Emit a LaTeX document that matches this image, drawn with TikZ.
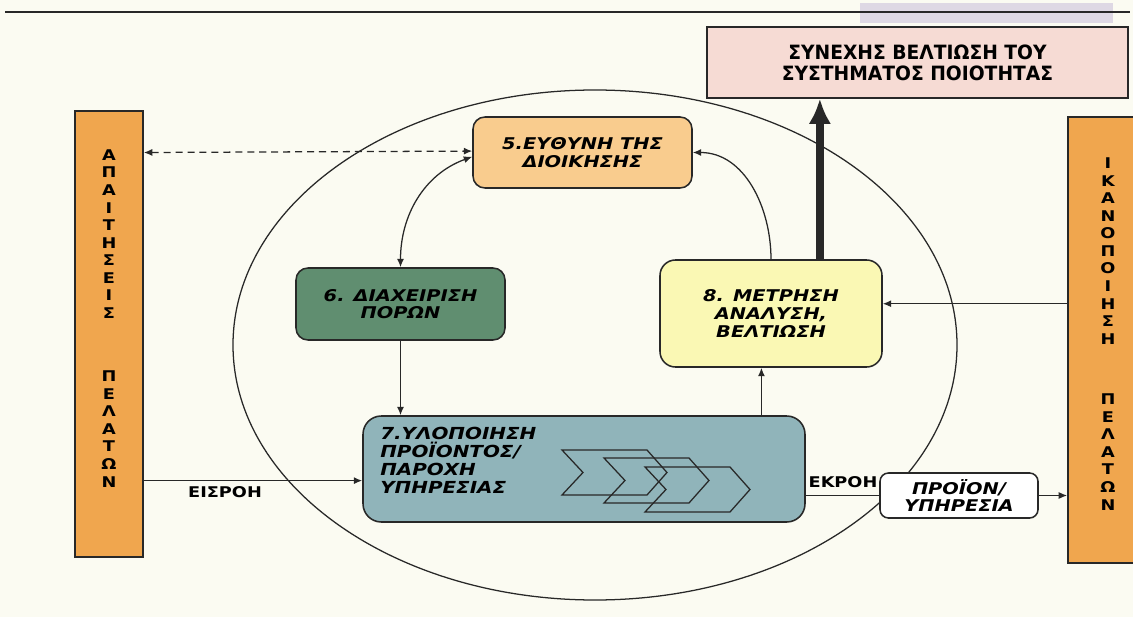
\documentclass[tikz,border=0pt]{standalone}
\usepackage{fontspec}
\setmainfont[FakeStretch=1.2]{DejaVu Sans}
\newfontfamily\narrowfont[FakeStretch=0.95]{DejaVu Sans}
\usetikzlibrary{arrows.meta}
\newlength\px
\setlength\px{0.025cm}
\definecolor{paper}{RGB}{251,251,242}
\definecolor{haze}{RGB}{222,216,228}
\definecolor{edge}{RGB}{40,40,40}
\definecolor{barorange}{RGB}{240,166,78}
\definecolor{goalpink}{RGB}{246,219,212}
\definecolor{fill_5}{RGB}{249,204,142}
\definecolor{fill_6}{RGB}{96,142,112}
\definecolor{fill_7}{RGB}{144,180,186}
\definecolor{fill_8}{RGB}{250,248,180}

\begin{document}
\begin{tikzpicture}[x=0.025cm, y=-0.025cm]

\tikzset{
  bar/.style={draw=edge, line width=1.2pt, fill=barorange, inner sep=0pt},
  letters/.style={font=\fontsize{10.5}{12.5}\selectfont\bfseries, align=center, inner sep=0pt},
  goalbox/.style={draw=edge, line width=0.8pt, fill=goalpink, inner sep=0pt, align=center,
    font=\narrowfont\fontsize{14}{14.8}\selectfont\bfseries},
  procbox/.style={draw=edge, line width=1.1pt, rounded corners=8.5pt, inner sep=0pt, align=center,
    font=\fontsize{11.5}{12.5}\selectfont\bfseries\itshape},
  tasktext/.style={inner sep=0pt, align=left, font=\fontsize{11.8}{12.8}\selectfont\bfseries\itshape},
  flowlabel/.style={inner sep=0pt, font=\fontsize{10.5}{12}\selectfont\bfseries},
  flow/.style={-{Latex[length=6pt,width=5pt]}, line width=0.9pt, draw=edge},
  twoway/.style={{Latex[length=6pt,width=5pt]}-{Latex[length=6pt,width=5pt]}, line width=0.9pt, draw=edge},
  chevron/.style={draw=edge, line width=0.9pt}
}

\useasboundingbox (0,0) rectangle (1133,617);
\fill[paper] (0,0) rectangle (1133,617);
\fill[haze] (860,3) rectangle (1113,23);
\draw[edge, line width=2pt] (5,12) -- (1130,12);

\draw[edge, line width=0.9pt] (595,345) ellipse [x radius=362*\px, y radius=255*\px];

\node[bar, minimum width=68*\px, minimum height=446*\px] (bar_L) at (109,334) {};
\node[letters] (req_1) at (109,234) {Α\\Π\\Α\\Ι\\Τ\\Η\\Σ\\Ε\\Ι\\Σ};
\node[letters] (req_2) at (109,429) {Π\\Ε\\Λ\\Α\\Τ\\Ω\\Ν};

\node[bar, minimum width=80*\px, minimum height=446*\px] (bar_R) at (1108,340) {};
\node[letters] (sat_1) at (1108,251) {Ι\\Κ\\Α\\Ν\\Ο\\Π\\Ο\\Ι\\Η\\Σ\\Η};
\node[letters] (sat_2) at (1108,452) {Π\\Ε\\Λ\\Α\\Τ\\Ω\\Ν};

\node[goalbox, minimum width=421*\px, minimum height=71*\px] (goal) at (917.5,62.5) {ΣΥΝΕΧΗΣ ΒΕΛΤΙΩΣΗ ΤΟΥ\\ΣΥΣΤΗΜΑΤΟΣ ΠΟΙΟΤΗΤΑΣ};

\node[procbox, fill=fill_5, minimum width=219*\px, minimum height=71*\px] (box_5) at (582.5,152.5) {5.ΕΥΘΥΝΗ ΤΗΣ\\ΔΙΟΙΚΗΣΗΣ};
\node[procbox, fill=fill_6, minimum width=209*\px, minimum height=72*\px] (box_6) at (400.5,304) {6. ΔΙΑΧΕΙΡΙΣΗ\\ΠΟΡΩΝ};
\node[procbox, fill=fill_8, minimum width=222*\px, minimum height=107*\px, rounded corners=11pt] (box_8) at (771,313.5) {8. ΜΕΤΡΗΣΗ\\ΑΝΑΛΥΣΗ,\\ΒΕΛΤΙΩΣΗ};
\node[procbox, fill=fill_7, minimum width=442*\px, minimum height=106*\px, rounded corners=13pt] (box_7) at (584,469) {};
\node[tasktext, anchor=west] (task_7) at (380,460) {7.ΥΛΟΠΟΙΗΣΗ\\ΠΡΟΪΟΝΤΟΣ/\\ΠΑΡΟΧΗ\\ΥΠΗΡΕΣΙΑΣ};
\node[procbox, fill=white, minimum width=158*\px, minimum height=45*\px, rounded corners=6pt] (out) at (959,495.5) {ΠΡΟΪΟΝ/\\ΥΠΗΡΕΣΙΑ};

\draw[chevron] (562,450) -- ++(85,0) -- ++(20,22.5) -- ++(-20,22.5) -- ++(-85,0) -- ++(21,-22.5) -- cycle;
\draw[chevron] (604,458) -- ++(85,0) -- ++(20,22.5) -- ++(-20,22.5) -- ++(-85,0) -- ++(21,-22.5) -- cycle;
\draw[chevron] (645,467) -- ++(85,0) -- ++(20,22.5) -- ++(-20,22.5) -- ++(-85,0) -- ++(21,-22.5) -- cycle;

\draw[twoway, dash pattern=on 5pt off 3.5pt] (bar_L.east |- box_5.west) -- ([yshift=1pt]box_5.west);
\draw[twoway] ([yshift=-3pt]box_5.west) to[out=200,in=90] (box_6.north);
\draw[flow] (box_8.north) to[out=90,in=0] (box_5.east);
\draw[flow] (box_6.south) -- (box_6.south |- box_7.north);
\draw[flow] (box_8.-100 |- box_7.north) -- (box_8.-100);
\draw[flow] (bar_R.west |- box_8.5) -- (box_8.5);
\draw[edge, line width=5.5pt, -{Latex[length=18pt,width=16pt]}] (box_8.48) -- (box_8.48 |- goal.south);

\draw[flow] (bar_L.east |- box_7.-177) -- (box_7.-177);
\node[flowlabel] (in_lbl) at (225,492) {ΕΙΣΡΟΗ};
\draw[edge, line width=0.9pt] (box_7.east |- out.west) -- (out.west);
\node[flowlabel] (out_lbl) at (843,482) {ΕΚΡΟΗ};
\draw[flow] (out.east) -- (bar_R.west |- out.east);

\end{tikzpicture}
\end{document}
